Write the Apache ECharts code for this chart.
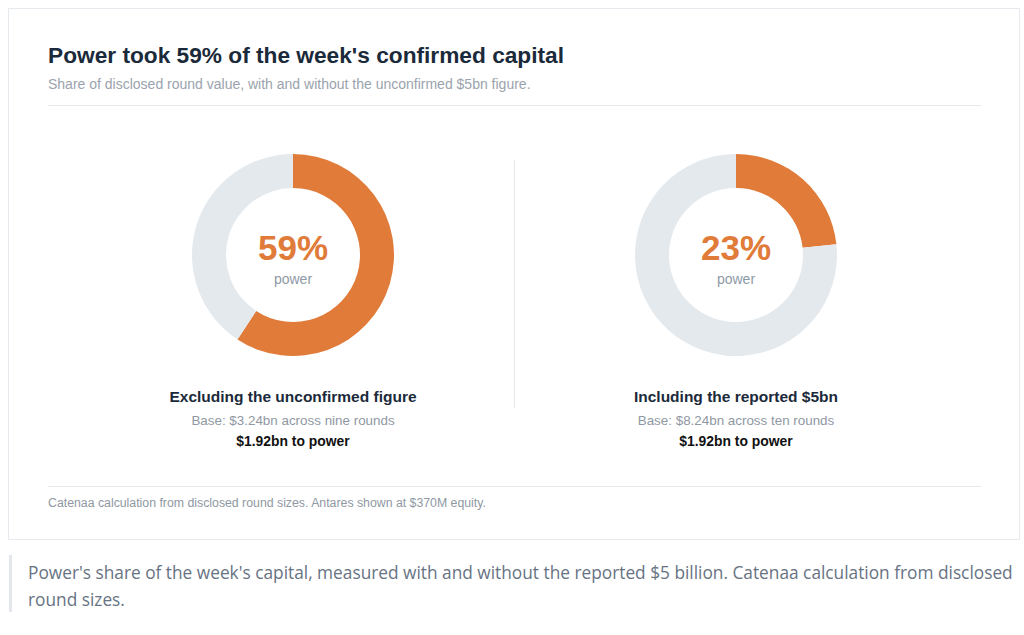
<!DOCTYPE html>
<html>
<head>
<meta charset="utf-8">
<script src="https://cdn.jsdelivr.net/npm/echarts@6/dist/echarts.min.js"></script>
<style>
html,body{margin:0;padding:0;background:#fff;}
#c{width:1024px;height:635px;}
</style>
</head>
<body>
<div id="c"></div>
<script>
// ---- data ----
const panelTitles = ['Excluding the unconfirmed figure', 'Including the reported $5bn'];
const baseTotals = [3.24, 8.24];          // $bn
const powerValues = [1.92, 1.92];         // $bn
const roundCounts = ['nine', 'ten'];
const centerLabel = 'power';
const titleText = "Power took 59% of the week's confirmed capital";
const subtitleText = 'Share of disclosed round value, with and without the unconfirmed $5bn figure.';
const footerText = 'Catenaa calculation from disclosed round sizes. Antares shown at $370M equity.';
const captionLines = ["Power's share of the week's capital, measured with and without the reported $5 billion. Catenaa calculation from disclosed",
                      'round sizes.'];

// ---- style ----
const ORANGE = '#E07B39';
const TRACK = '#E4E9EE';
const FONT = '"Liberation Sans", Arial, Helvetica, sans-serif';
const centersX = [293, 736];
const centerY = 255;

const chart = echarts.init(document.getElementById('c'), null, {renderer: 'svg'});

const series = panelTitles.map((t, i) => ({
  type: 'pie',
  center: [centersX[i], centerY],
  radius: [67, 101],
  startAngle: 90,
  clockwise: true,
  silent: true,
  label: {show: false},
  labelLine: {show: false},
  emphasis: {disabled: true},
  data: [
    {name: 'Power', value: powerValues[i], itemStyle: {color: ORANGE}},
    {name: 'Other', value: +(baseTotals[i] - powerValues[i]).toFixed(2), itemStyle: {color: TRACK}}
  ]
}));

const txt = (x, y, text, size, color, weight, align) => ({
  type: 'text', x: x, y: y, silent: true,
  style: {text: text, fontSize: size, fill: color, fontWeight: weight || 'normal',
          fontFamily: FONT, textAlign: align || 'left', textVerticalAlign: 'middle'}
});

const graphics = [
  {type: 'rect', shape: {x: 8.5, y: 8.5, width: 1011, height: 531}, style: {fill: '#fff', stroke: '#e6e9ed', lineWidth: 1}, z: -10, silent: true},
  txt(48, 55, titleText, 22.7, '#1b2a3a', 'bold'),
  txt(48, 84, subtitleText, 14, '#9aa3ad'),
  {type: 'line', shape: {x1: 48, y1: 105.5, x2: 981, y2: 105.5}, style: {stroke: '#e5e8ec', lineWidth: 1}, silent: true},
  {type: 'line', shape: {x1: 514.5, y1: 160, x2: 514.5, y2: 408}, style: {stroke: '#e5e8ec', lineWidth: 1}, silent: true},
  {type: 'line', shape: {x1: 48, y1: 486.5, x2: 981, y2: 486.5}, style: {stroke: '#e5e8ec', lineWidth: 1}, silent: true},
  txt(48, 503, footerText, 12.3, '#8f98a3'),
  {type: 'rect', shape: {x: 9, y: 555, width: 3, height: 57}, style: {fill: '#e3e6ea'}, silent: true},
  {type: 'text', x: 28, y: 572, silent: true, style: {text: captionLines[0], fontSize: 17.3, fill: '#677383', fontFamily: '"Open Sans", sans-serif', textVerticalAlign: 'middle'}},
  {type: 'text', x: 28, y: 599, silent: true, style: {text: captionLines[1], fontSize: 17.3, fill: '#677383', fontFamily: '"Open Sans", sans-serif', textVerticalAlign: 'middle'}}
];

panelTitles.forEach((t, i) => {
  const pct = Math.round(powerValues[i] / baseTotals[i] * 100);
  const cx = centersX[i];
  graphics.push(txt(cx, 247, pct + '%', 35, ORANGE, 'bold', 'center'));
  graphics.push(txt(cx, 279, centerLabel, 14, '#8e99a6', 'normal', 'center'));
  graphics.push(txt(cx, 396, t, 15.5, '#1b2a3a', 'bold', 'center'));
  graphics.push(txt(cx, 420, 'Base: $' + baseTotals[i].toFixed(2) + 'bn across ' + roundCounts[i] + ' rounds', 13.4, '#8f98a3', 'normal', 'center'));
  graphics.push(txt(cx, 441, '$' + powerValues[i].toFixed(2) + 'bn to power', 13.9, '#111111', 'bold', 'center'));
});

chart.setOption({
  animation: false,
  backgroundColor: '#ffffff',
  series: series,
  graphic: graphics
});
</script>
</body>
</html>
